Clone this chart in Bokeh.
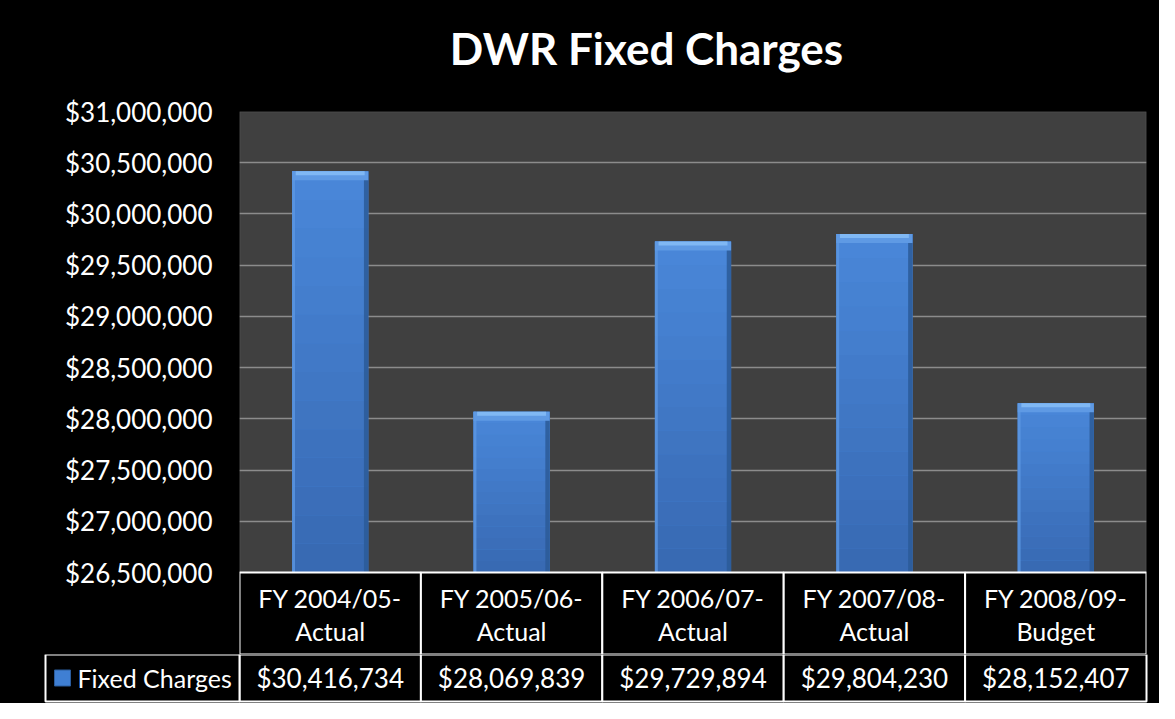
from bokeh.plotting import figure
from bokeh.models import (Range1d, FactorRange, FixedTicker, NumeralTickFormatter, ColumnDataSource,
                          BoxAnnotation)
from bokeh.layouts import column
from bokeh.transform import dodge
from bokeh.core.properties import value
from bokeh.embed import file_html
from bokeh.resources import INLINE

# ---------------- data ----------------
title_text = "DWR Fixed Charges"
series_name = "Fixed Charges"
cat_line1 = ["FY 2004/05-", "FY 2005/06-", "FY 2006/07-", "FY 2007/08-", "FY 2008/09-"]
cat_line2 = ["Actual", "Actual", "Actual", "Actual", "Budget"]
fixed_charges = [30416734, 28069839, 29729894, 29804230, 28152407]
y_min, y_max, y_step = 26500000, 31000000, 500000

categories = [a + " " + b for a, b in zip(cat_line1, cat_line2)]
value_labels = ["${:,}".format(v) for v in fixed_charges]
y_ticks = list(range(y_min, y_max + 1, y_step))
n = len(categories)

# ---------------- layout constants (pixels) ----------------
W, H = 1159, 703
TITLE_H = 80              # height of the title strip
FL, FR = 239, 1146        # plot area left / right
FT, PB = 111, 572         # plot area top / bottom (table starts below)
HDR_H = 82                # header row height
TOP_H = PB + HDR_H        # bottom of the upper figure
VAL_H = H - TOP_H         # height of value-row figure
FONT = "Lato"
upp = (y_max - y_min) / (PB - FT)   # data units per pixel
cw = (FR - FL) / n
BLACK_BG = {"background-color": "black"}

# ---------------- title strip ----------------
tt = figure(width=W, height=TITLE_H, x_range=Range1d(0, W), y_range=Range1d(0, TITLE_H),
            x_axis_location=None, y_axis_location=None, output_backend="svg",
            toolbar_location=None, min_border=0, styles=BLACK_BG)
tt.frame_align = False
tt.border_fill_color = "black"
tt.background_fill_color = "black"
tt.outline_line_color = None
tt.xgrid.grid_line_color = None
tt.ygrid.grid_line_color = None
tt.text(x=[646], y=[TITLE_H - 47], text=[title_text], text_align="center", text_baseline="middle",
        text_color="white", text_font=value(FONT), text_font_style="bold", text_font_size="44px")

# ---------------- chart with header row ----------------
p = figure(width=W, height=TOP_H - TITLE_H,
           x_range=FactorRange(*categories),
           y_range=Range1d(y_min - HDR_H * upp, y_max),
           x_axis_location=None, output_backend="svg", toolbar_location=None,
           min_border_left=FL, min_border_right=W - FR,
           min_border_top=FT - TITLE_H, min_border_bottom=0, styles=BLACK_BG)
p.frame_align = False
p.border_fill_color = "black"
p.background_fill_color = "black"
p.outline_line_color = None

# plot area (dark grey box)
p.add_layout(BoxAnnotation(bottom=y_min, top=y_max, fill_color="#404040", fill_alpha=1.0,
                           line_color="#8a8a8a", line_width=1.5, level="image"))

# y axis
p.yaxis.ticker = FixedTicker(ticks=y_ticks)
p.yaxis.formatter = NumeralTickFormatter(format="$0,0")
p.yaxis.axis_line_color = None
p.yaxis.major_tick_line_color = None
p.yaxis.minor_tick_line_color = None
p.yaxis.major_tick_out = 0
p.yaxis.major_tick_in = 0
p.yaxis.major_label_standoff = 27
p.yaxis.major_label_text_color = "white"
p.yaxis.major_label_text_font = FONT
p.yaxis.major_label_text_font_size = "26px"
p.ygrid.ticker = FixedTicker(ticks=y_ticks[1:])
p.ygrid.grid_line_color = "#8c8c8c"
p.ygrid.grid_line_width = 1.5
p.xgrid.grid_line_color = None

# bars with a simple vertical gradient and bevel
BW = 0.42
src = ColumnDataSource(dict(cat=categories, val=fixed_charges))
bars = p.vbar(x="cat", top="val", bottom=y_min, width=BW, source=src,
              fill_color="#4382D5", line_color=None)
NB = 14
top_c = (0x4A, 0x88, 0xDA)
bot_c = (0x38, 0x69, 0xB2)
for k in range(NB):
    f0, f1 = k / NB, (k + 1) / NB
    c = tuple(int(top_c[i] + (bot_c[i] - top_c[i]) * (f0 + f1) / 2) for i in range(3))
    col = "#%02x%02x%02x" % c
    tops = [v - (v - y_min) * f0 for v in fixed_charges]
    bots = [v - (v - y_min) * f1 for v in fixed_charges]
    p.vbar(x=categories, top=tops, bottom=bots, width=BW, fill_color=col, line_color=None)
p.vbar(x=dodge("cat", BW / 2 - 0.012, range=p.x_range), top="val", bottom=y_min, width=0.024,
       source=src, fill_color="#2c5a98", line_color=None, fill_alpha=0.85)
p.vbar(x=dodge("cat", -BW / 2 + 0.008, range=p.x_range), top="val", bottom=y_min, width=0.016,
       source=src, fill_color="#5c97e2", line_color=None, fill_alpha=0.8)
p.vbar(x=categories, top=fixed_charges, bottom=[v - 9 * upp for v in fixed_charges], width=BW,
       fill_color="#5f9ae4", line_color=None)
p.vbar(x=categories, top=fixed_charges, bottom=[v - 4 * upp for v in fixed_charges], width=BW - 0.04,
       fill_color="#80b8f4", line_color=None)

# table header row (category labels)
p.rect(x=categories, y=y_min - HDR_H / 2 * upp, width=1, height=HDR_H * upp,
       fill_color="black", line_color="white", line_width=2)
hdr = dict(text_align="center", text_baseline="middle", text_color="white",
           text_font=value(FONT), text_font_size="25px")
p.text(x=categories, y=y_min - 25 * upp, text=cat_line1, **hdr)
p.text(x=categories, y=y_min - 58 * upp, text=cat_line2, **hdr)

# ---------------- table value row with legend key ----------------
t = figure(width=W, height=VAL_H, x_range=Range1d(-FL / cw, (W - FL) / cw), y_range=Range1d(0, VAL_H),
           x_axis_location=None, y_axis_location=None, output_backend="svg",
           toolbar_location=None, min_border=0, styles=BLACK_BG)
t.frame_align = False
t.border_fill_color = "black"
t.background_fill_color = "black"
t.outline_line_color = None
t.xgrid.grid_line_color = None
t.ygrid.grid_line_color = None

ROW_TOP, ROW_BOT = VAL_H, 2
idx = list(range(n))
t.quad(left=idx, right=[i + 1 for i in idx], top=ROW_TOP, bottom=ROW_BOT,
       fill_color="black", line_color="white", line_width=2)
leg_left = -(FL - 45) / cw
t.quad(left=[leg_left], right=[0], top=[ROW_TOP], bottom=[ROW_BOT],
       fill_color="black", line_color="white", line_width=2)
row_c = (ROW_TOP + ROW_BOT) / 2
t.text(x=[i + 0.5 for i in idx], y=row_c, text=value_labels, text_align="center",
       text_baseline="middle", text_color="white", text_font=value(FONT), text_font_size="26px")
t.scatter(x=[leg_left + 17 / cw], y=[row_c], marker="square", size=16,
          fill_color="#3f7fd3", line_color="#2b5c9c")
t.text(x=[leg_left + 32 / cw], y=[row_c], text=[series_name],
       text_align="left", text_baseline="middle", text_color="white",
       text_font=value(FONT), text_font_size="25px")

layout = column(tt, p, t, spacing=0, styles=BLACK_BG)
open("out.html", "w").write(file_html(layout, INLINE))
